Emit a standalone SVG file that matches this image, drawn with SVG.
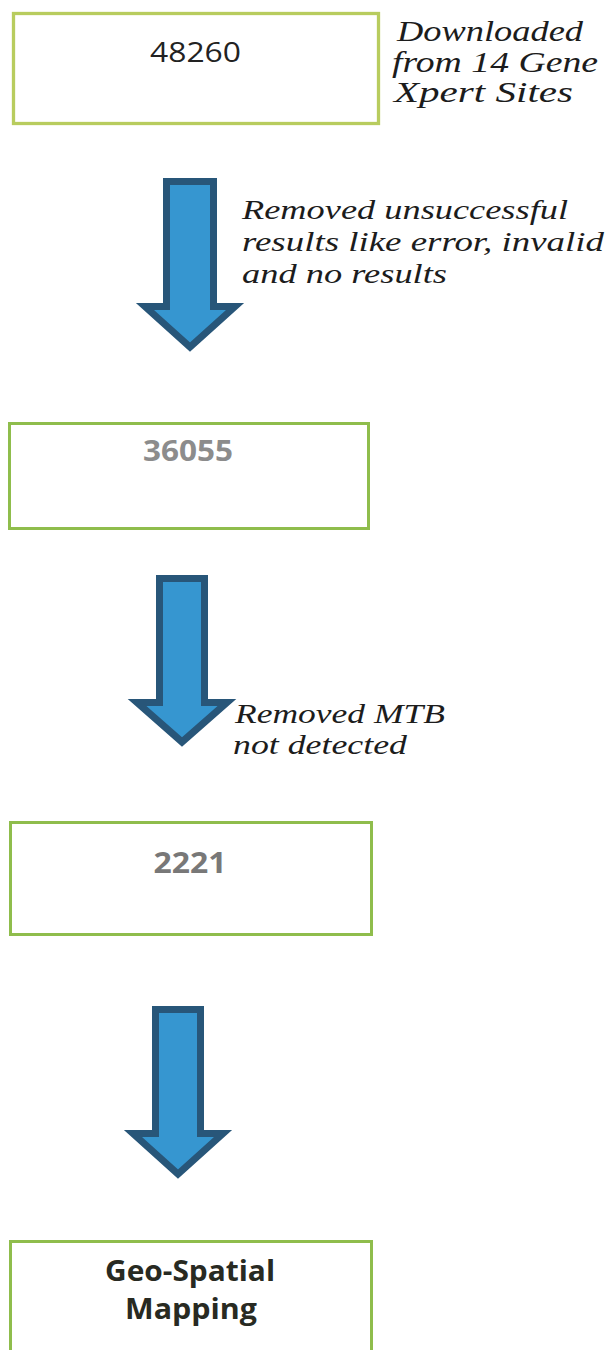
<svg xmlns="http://www.w3.org/2000/svg" width="608" height="1350" viewBox="0 0 608 1350">
<style>
.box{fill:#ffffff;stroke:#8fbd4c;stroke-width:3}
.box1{fill:#ffffff;stroke:#b8cc5e;stroke-width:3.3}
.arrow{fill:#3696d0;stroke:#285679;stroke-width:7;stroke-linejoin:miter;stroke-miterlimit:10}
.note{font-family:"Liberation Serif",serif;font-style:italic;font-size:28px;fill:#1c1c1c}
.big{font-size:30px}
.num{font-family:"Open Sans","Liberation Sans",sans-serif;font-size:28px;text-anchor:middle}
.bold{font-weight:bold}
</style>
<rect width="608" height="1350" fill="#ffffff"/>
<g id="node-48260">
<rect class="box1" x="13.5" y="13.5" width="365" height="110"/>
<text class="num" x="195.5" y="62" fill="#222222" textLength="91" lengthAdjust="spacingAndGlyphs">48260</text>
</g>
<g id="note-downloaded">
<text class="note big" x="397" y="41" textLength="186" lengthAdjust="spacingAndGlyphs">Downloaded</text>
<text class="note big" x="392" y="72" textLength="206" lengthAdjust="spacingAndGlyphs">from 14 Gene</text>
<text class="note big" x="394" y="102" textLength="179" lengthAdjust="spacingAndGlyphs">Xpert Sites</text>
</g>
<g id="node-36055">
<rect class="box" x="9.5" y="423.5" width="359" height="105"/>
<text class="num bold" x="188" y="461" fill="#8c8c8c" font-size="31" textLength="90" lengthAdjust="spacingAndGlyphs">36055</text>
</g>
<g id="node-2221">
<rect class="box" x="10.5" y="822.5" width="361" height="112"/>
<text class="num bold" x="190" y="873" fill="#787878" textLength="73" lengthAdjust="spacingAndGlyphs">2221</text>
</g>
<g id="node-geo">
<rect class="box" x="10.5" y="1241.5" width="361" height="130"/>
<text class="num bold" x="190" y="1281" fill="#282a22" font-size="30" textLength="170" lengthAdjust="spacingAndGlyphs">Geo-Spatial</text>
<text class="num bold" x="191" y="1319" fill="#282a22" font-size="30" textLength="132" lengthAdjust="spacingAndGlyphs">Mapping</text>
</g>
<g id="connectors">
<path class="arrow" d="M166.5,181.5 H213.5 V306.5 H235 L190,347 L145,306.5 H166.5 Z"/>
<path class="arrow" d="M159.5,578.5 H204.5 V702.5 H227 L182,742 L137,702.5 H159.5 Z"/>
<path class="arrow" d="M155.5,1009.5 H200.5 V1133.5 H223 L178,1174 L133,1133.5 H155.5 Z"/>
</g>
<g id="note-removed1">
<text class="note" x="242" y="219" textLength="326" lengthAdjust="spacingAndGlyphs">Removed unsuccessful</text>
<text class="note" x="242" y="251" textLength="362" lengthAdjust="spacingAndGlyphs">results like error, invalid</text>
<text class="note" x="242" y="283" textLength="205" lengthAdjust="spacingAndGlyphs">and no results</text>
</g>
<g id="note-removed2">
<text class="note" x="235" y="723" textLength="210" lengthAdjust="spacingAndGlyphs">Removed MTB</text>
<text class="note" x="233" y="754" textLength="174" lengthAdjust="spacingAndGlyphs">not detected</text>
</g>
</svg>
